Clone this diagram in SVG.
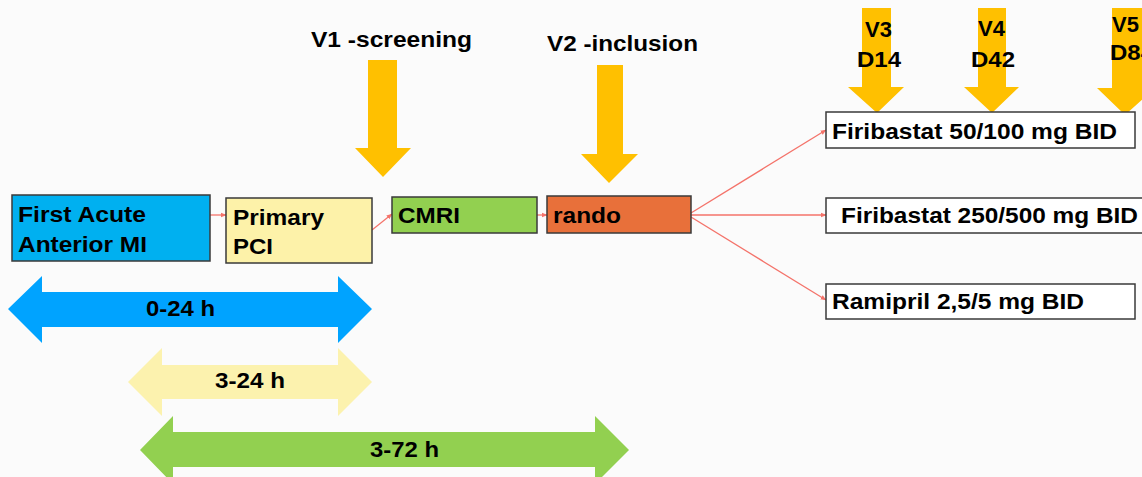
<svg xmlns="http://www.w3.org/2000/svg" width="1142" height="477" viewBox="0 0 1142 477">
<style>
  .box{stroke:#3a3a3a;stroke-width:1.5}
  .t{font-family:"Liberation Sans",Arial,sans-serif;font-weight:bold;font-size:22px;fill:#000}
  .h{font-family:"Liberation Sans",Arial,sans-serif;font-weight:bold;font-size:22px;fill:#000}
  .conn{stroke:#F4736A;stroke-width:1.3;fill:none;marker-end:url(#ah)}
  .ya{fill:#FFC000}
</style>
<defs>
  <marker id="ah" viewBox="0 0 10 10" refX="9" refY="5" markerWidth="6" markerHeight="6" orient="auto" markerUnits="userSpaceOnUse">
    <path d="M0,1 L10,5 L0,9 z" fill="#F4736A"/>
  </marker>
</defs>
<rect width="1142" height="477" fill="#FBFBFB"/>

<g id="visit-arrows">
  <path class="ya" d="M368,60 H397 V148 H411 L383,177 L355,148 H368 Z"/>
  <path class="ya" d="M597,65 H623 V154 H638 L609,183 L581,154 H597 Z"/>
  <path class="ya" d="M862,8 H891 V87 H904 L877,113 L848,87 H862 Z"/>
  <path class="ya" d="M978,8 H1006 V87 H1019 L992,113 L964,87 H978 Z"/>
  <path class="ya" d="M1112,8 H1142 V88 H1155 L1125,115 L1097,88 H1112 Z"/>
</g>

<g id="visit-labels">
  <text class="t" x="311" y="47" textLength="161" lengthAdjust="spacingAndGlyphs">V1 -screening</text>
  <text class="t" x="547" y="51" textLength="151" lengthAdjust="spacingAndGlyphs">V2 -inclusion</text>
  <text class="t" x="865" y="37">V3</text>
  <text class="t" x="857" y="67" textLength="44" lengthAdjust="spacingAndGlyphs">D14</text>
  <text class="t" x="978" y="36">V4</text>
  <text class="t" x="971" y="67" textLength="44" lengthAdjust="spacingAndGlyphs">D42</text>
  <text class="t" x="1112" y="32">V5</text>
  <text class="t" x="1110" y="60" textLength="44" lengthAdjust="spacingAndGlyphs">D84</text>
</g>

<g id="connectors">
  <line class="conn" x1="210" y1="215" x2="226" y2="215"/>
  <line class="conn" x1="372" y1="230" x2="392" y2="214"/>
  <line class="conn" x1="537" y1="215" x2="547" y2="215"/>
  <line class="conn" x1="691" y1="213" x2="826" y2="130"/>
  <line class="conn" x1="691" y1="215" x2="826" y2="215"/>
  <line class="conn" x1="691" y1="217" x2="826" y2="300"/>
</g>

<g id="node-mi">
  <rect class="box" x="12" y="195" width="198" height="66" fill="#00B0F0"/>
  <text class="t" x="18" y="222" textLength="128" lengthAdjust="spacingAndGlyphs">First Acute</text>
  <text class="t" x="18" y="252" textLength="129" lengthAdjust="spacingAndGlyphs">Anterior MI</text>
</g>
<g id="node-pci">
  <rect class="box" x="226" y="198" width="146" height="65" fill="#FDF2A9"/>
  <text class="t" x="233" y="225" textLength="91" lengthAdjust="spacingAndGlyphs">Primary</text>
  <text class="t" x="233" y="254" textLength="40" lengthAdjust="spacingAndGlyphs">PCI</text>
</g>
<g id="node-cmri">
  <rect class="box" x="392" y="197" width="145" height="36" fill="#92D050"/>
  <text class="t" x="398" y="223" textLength="62" lengthAdjust="spacingAndGlyphs">CMRI</text>
</g>
<g id="node-rando">
  <rect class="box" x="547" y="196" width="144" height="37" fill="#E8703A"/>
  <text class="t" x="553" y="223" textLength="68" lengthAdjust="spacingAndGlyphs">rando</text>
</g>
<g id="node-firi-low">
  <rect class="box" x="826" y="112" width="309" height="36" fill="#FFFFFF"/>
  <text class="t" x="832" y="139" textLength="285" lengthAdjust="spacingAndGlyphs">Firibastat 50/100 mg BID</text>
</g>
<g id="node-firi-high">
  <rect class="box" x="826" y="198" width="330" height="35" fill="#FFFFFF"/>
  <text class="t" x="841" y="223" textLength="297" lengthAdjust="spacingAndGlyphs">Firibastat 250/500 mg BID</text>
</g>
<g id="node-ramipril">
  <rect class="box" x="826" y="284" width="309" height="35" fill="#FFFFFF"/>
  <text class="t" x="832" y="309" textLength="252" lengthAdjust="spacingAndGlyphs">Ramipril 2,5/5 mg BID</text>
</g>

<g id="span-0-24">
  <path d="M8,309 L42,276 V292 H338 V276 L372,309 L338,343 V327 H42 V343 Z" fill="#00A3FF"/>
  <text class="h" x="146" y="316" textLength="69" lengthAdjust="spacingAndGlyphs">0-24 h</text>
</g>
<g id="span-3-24">
  <path d="M128,382 L162,348 V365 H338 V348 L372,382 L338,416 V399 H162 V416 Z" fill="#FCF2AE"/>
  <text class="h" x="215" y="388" textLength="70" lengthAdjust="spacingAndGlyphs">3-24 h</text>
</g>
<g id="span-3-72">
  <path d="M140,450 L173,416 V432 H595 V416 L629,450 L595,484 V467 H173 V484 Z" fill="#92D050"/>
  <text class="h" x="370" y="457" textLength="69" lengthAdjust="spacingAndGlyphs">3-72 h</text>
</g>
</svg>
